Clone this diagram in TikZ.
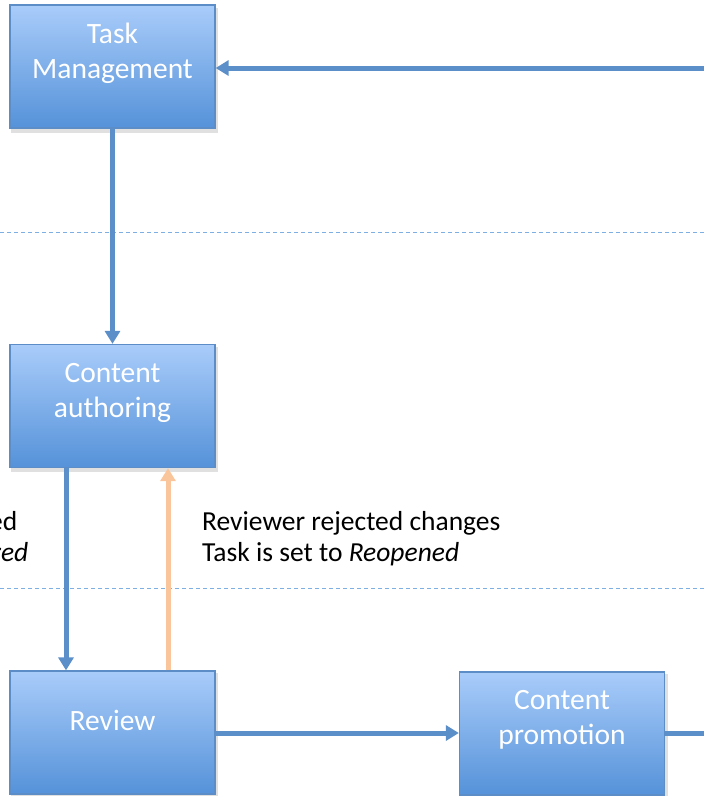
\documentclass[tikz,border=0pt]{standalone}
\usepackage{fontspec}
\setmainfont{Carlito}
\usetikzlibrary{arrows.meta}
\definecolor{boxtop}{HTML}{A9CCFA}
\definecolor{boxbot}{HTML}{5592D9}
\definecolor{boxedge}{HTML}{5C8DC6}
\definecolor{arrowblue}{HTML}{5B8FC9}
\definecolor{peach}{HTML}{FAC59A}
\definecolor{dashblue}{HTML}{7DAFE2}
\begin{document}
\begin{tikzpicture}[x=1pt,y=-1pt,
  box/.style={draw=boxedge, line width=1.3pt, top color=boxtop, bottom color=boxbot,
    minimum width=205pt, minimum height=123pt, inner sep=0pt},
  boxtext/.style={text=white, font=\fontsize{29.5}{35}\selectfont, align=center, inner sep=0pt},
  flow/.style={draw=arrowblue, line width=5pt, -{Triangle[length=13pt,width=15pt]}},
  back/.style={draw=peach, line width=5pt, -{Triangle[length=13pt,width=15pt]}},
  plainflow/.style={draw=arrowblue, line width=5pt},
  sep/.style={draw=dashblue, line width=0.9pt, dash pattern=on 4pt off 3pt},
  note/.style={font=\fontsize{27.5}{31}\selectfont, align=left, inner sep=0pt},
  shadowbox/.style={fill=black, opacity=0.12, draw=none, minimum width=207pt, minimum height=125pt}
]
\useasboundingbox (0,0) rectangle (704,796);

% separators
\coordinate (s1l) at (0,232);
\coordinate (s1r) at (704,232);
\coordinate (s2l) at (0,588);
\coordinate (s2r) at (704,588);
\draw[sep] (s1l) -- (s1r);
\draw[sep] (s2l) -- (s2r);

% shadows
\node[shadowbox] (tmsh) at (114.5,70) {};
\node[shadowbox] (cash) at (114.5,409.5) {};
\node[shadowbox] (rvsh) at (114.5,735.5) {};
\node[shadowbox] (cpsh) at (564,736.5) {};

% boxes
\node[box] (tm) at (112.5,66.5) {};
\node[box] (ca) at (112.5,406) {};
\node[box] (rv) at (112.5,732.5) {};
\node[box] (cp) at (562,733.5) {};

\node[boxtext] (tmt) at (112.5,53) {Task\\Management};
\node[boxtext] (cat) at (112.5,393) {Content\\authoring};
\node[boxtext] (rvt) at (112.5,720) {Review};
\node[boxtext] (cpt) at (562,720) {Content\\promotion};

% connectors
\coordinate (inr) at (704,68);
\coordinate (outr) at (704,733);
\draw[flow] (inr) -- (tm.east |- inr);
\draw[flow] (tm.south) -- (ca.north);
\draw[flow] (ca.south -| 66,0) -- (rv.north -| 66,0);
\draw[back] (rv.north -| 168,0) -- (ca.south -| 168,0);
\draw[flow] (rv.east |- outr) -- (cp.west |- outr);
\draw[plainflow] (cp.east |- outr) -- (outr);

% notes
\node[note, anchor=north west] (rej) at (202,511) {Reviewer rejected changes\\Task is set to \textit{Reopened}};
\node[note, anchor=north east] (l1) at (17.5,511) {ed};
\node[note, anchor=north east] (l2) at (28.5,542) {\textit{red}};
\end{tikzpicture}
\end{document}
